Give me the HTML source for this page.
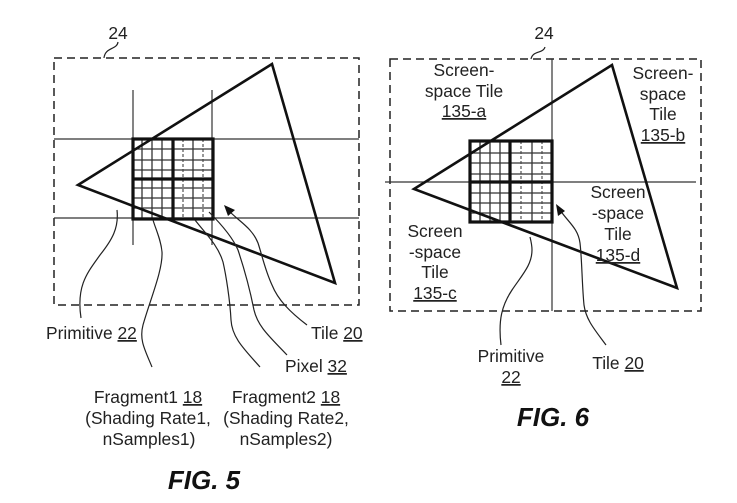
<!DOCTYPE html>
<html><head><meta charset="utf-8"><style>
html,body{margin:0;padding:0;background:#fff;width:737px;height:503px;overflow:hidden}
svg{display:block;filter:blur(.35px)}
text{font-family:"Liberation Sans",sans-serif;font-size:17.4px;fill:#222;text-anchor:middle}
.s{text-anchor:start}
.fig{font-size:26px;font-weight:bold;font-style:italic;fill:#111}
.dash{fill:none;stroke:#222;stroke-width:1.5;stroke-dasharray:8 5}
.thin{stroke:#333;stroke-width:1.2;fill:none}
.tri{fill:none;stroke:#111;stroke-width:2.6;stroke-linejoin:miter}
.g{stroke:#333;stroke-width:1.3;fill:none}
.gd{stroke:#444;stroke-width:1.1;stroke-dasharray:3 2;fill:none}
.b{fill:none;stroke:#111;stroke-width:3.2}
.l{fill:none;stroke:#222;stroke-width:1.2}
</style></head><body>
<svg width="737" height="503" viewBox="0 0 737 503" xmlns="http://www.w3.org/2000/svg">
<!-- FIG 5 -->
<rect class="dash" x="54" y="58" width="305" height="247"/>
<path class="l" d="M118 42C117 50 105 47 104 58"/>
<text x="118" y="39">24</text>
<path class="thin" d="M54 139H359M54 218H359M133 90V245M212 90V245"/>
<path class="g" d="M142 139V219M152 139V219M162 139V219M193 139V219M133 149H213M133 160H213M133 170H213M133 188H213M133 198H213M133 208H213"/>
<path class="gd" d="M183 139V219M203 139V219"/>
<rect class="b" x="133" y="139" width="80" height="80"/>
<path class="b" d="M173 139V219M133 179H213"/>
<polygon class="tri" points="78,185 272,64 335,283"/>
<path class="l" d="M81 318C76 285 88 272 100 255C112 240 119 228 117 210"/>
<path class="l" d="M152 367C145 350 139 340 143 325C150 300 163 270 162 252C161 240 156 230 153 220"/>
<path class="l" d="M260 367C245 350 232 338 231 320C230 300 226 275 223 262C218 245 205 233 195 220"/>
<path class="l" d="M287 355C270 337 258 327 254 310C250 290 243 265 238 250C233 238 222 225 209 212"/>
<path class="l" d="M307 325C290 312 278 300 272 285C265 270 262 255 258 243C252 228 240 222 229 211"/>
<polygon points="224,205 235,210 228,216" fill="#111"/>
<text class="s" x="46" y="339">Primitive <tspan text-decoration="underline">22</tspan></text>
<text class="s" x="311" y="339">Tile <tspan text-decoration="underline">20</tspan></text>
<text class="s" x="285" y="372">Pixel <tspan text-decoration="underline">32</tspan></text>
<text x="148" y="403">Fragment1 <tspan text-decoration="underline">18</tspan></text>
<text x="148" y="424">(Shading Rate1,</text>
<text x="149" y="445">nSamples1)</text>
<text x="286" y="403">Fragment2 <tspan text-decoration="underline">18</tspan></text>
<text x="286" y="424">(Shading Rate2,</text>
<text x="286" y="445">nSamples2)</text>
<text class="fig" x="204" y="489">FIG. 5</text>
<!-- FIG 6 -->
<rect class="dash" x="390" y="59" width="311" height="252"/>
<path class="l" d="M545 47C543 54 533 50 531 59"/>
<text x="544" y="39">24</text>
<path class="thin" d="M385 182H696M552 59V311"/>
<path class="g" d="M480 141V222M490 141V222M500 141V222M532 141V222M470 153H552M470 163H552M470 174H552M470 193H552M470 203H552M470 213H552"/>
<path class="gd" d="M521 141V222M542 141V222"/>
<rect class="b" x="470" y="141" width="82" height="81"/>
<path class="b" d="M510 141V222M470 182H552"/>
<polygon class="tri" points="414,189 612,65 677,288"/>
<path class="l" d="M501 345C498 320 502 305 512 290C522 275 532 265 532 250C532 245 531 241 530 237"/>
<path class="l" d="M606 345C595 330 586 320 584 305C582 285 582 260 580 243C578 228 568 222 560 210"/>
<polygon points="556,204 565,211 558,216" fill="#111"/>
<text x="464" y="76">Screen-</text>
<text x="464" y="97">space Tile</text>
<text x="464" y="117" text-decoration="underline">135-a</text>
<text x="663" y="79">Screen-</text>
<text x="663" y="100">space</text>
<text x="663" y="120">Tile</text>
<text x="663" y="141" text-decoration="underline">135-b</text>
<text x="618" y="198">Screen</text>
<text x="618" y="219">-space</text>
<text x="618" y="240">Tile</text>
<text x="618" y="261" text-decoration="underline">135-d</text>
<text x="435" y="237">Screen</text>
<text x="435" y="258">-space</text>
<text x="435" y="278">Tile</text>
<text x="435" y="299" text-decoration="underline">135-c</text>
<text x="511" y="362">Primitive</text>
<text x="511" y="383" text-decoration="underline">22</text>
<text x="618" y="369">Tile <tspan text-decoration="underline">20</tspan></text>
<text class="fig" x="553" y="426">FIG. 6</text>
</svg>
</body></html>
